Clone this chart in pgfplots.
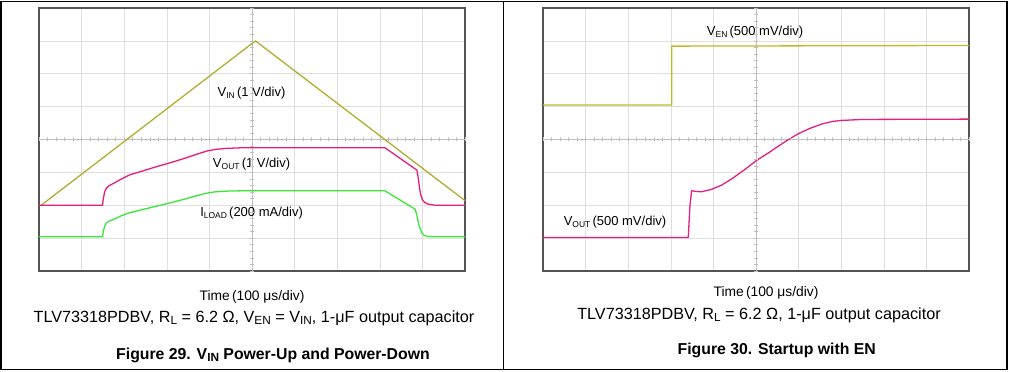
\documentclass[border=0pt]{standalone}
\usepackage{pgfplots}
\pgfplotsset{compat=1.18}
\usepackage{fontspec}
\setmainfont{Liberation Sans}
\definecolor{vin}{RGB}{178,172,48}
\definecolor{ven}{RGB}{192,186,40}
\definecolor{vout}{RGB}{230,30,130}
\definecolor{iload}{RGB}{60,228,60}
\definecolor{frame}{RGB}{85,85,85}
\newcommand{\sub}[1]{\raisebox{-0.25ex}{\fontsize{8.5}{9}\selectfont #1}}
\newcommand{\csub}[1]{\raisebox{-0.3ex}{\fontsize{11.8}{12}\selectfont #1}}
\pgfplotsset{scopeaxis/.style={width=426pt,height=263pt,scale only axis,
  xmin=0,xmax=10,ymin=0,ymax=8,xtick={1,...,9},ytick={1,...,7},
  xticklabels={},yticklabels={},major tick length=0pt,
  grid=major,grid style={gray!25,line width=0.6pt},
  axis line style={draw=frame,line width=2pt},anchor=south west,
  every axis plot/.append style={line width=1.3pt,line join=round}}}
\begin{document}
\begin{tikzpicture}
\path (0pt,0pt) rectangle (1010pt,372pt);
% ---------- left panel ----------
\begin{axis}[scopeaxis,at={(39pt,101pt)}]
\draw[gray!50,line width=0.6pt] (axis cs:5,0)--(axis cs:5,8);
\draw[gray!50,line width=0.6pt] (axis cs:0,4)--(axis cs:10,4);
\addplot[vin] coordinates {(0,2.0)(0.05,2.0)(5.08,7.0)(10,2.14)};
\addplot[vout] coordinates {(0,2.0)(1.49,2.0)(1.51,2.2)(1.54,2.4)(1.58,2.52)(1.65,2.6)(1.77,2.68)(1.95,2.81)(2.12,2.92)(2.4,3.03)(2.75,3.17)(3.1,3.3)(3.4,3.42)(3.7,3.55)(3.94,3.65)(4.15,3.7)(4.4,3.73)(4.8,3.75)(8.12,3.75)(8.87,3.07)(8.9,2.85)(8.93,2.55)(8.96,2.32)(9.0,2.17)(9.05,2.09)(9.12,2.04)(9.3,2.0)(10,2.0)};
\addplot[iload] coordinates {(0,1.04)(1.49,1.04)(1.51,1.2)(1.54,1.36)(1.58,1.46)(1.65,1.52)(1.77,1.58)(1.95,1.69)(2.12,1.77)(2.4,1.86)(2.75,1.97)(3.1,2.08)(3.4,2.18)(3.7,2.29)(3.94,2.37)(4.15,2.41)(4.4,2.43)(4.8,2.44)(8.12,2.44)(8.83,1.88)(8.87,1.7)(8.91,1.45)(8.95,1.27)(9.0,1.13)(9.06,1.07)(9.15,1.05)(9.3,1.04)(10,1.04)};
\node[font=\fontsize{13}{14}\selectfont] at (axis cs:4.99,5.4) {V\sub{IN}\,(1 V/div)};
\node[font=\fontsize{13}{14}\selectfont] at (axis cs:4.99,3.24) {V\sub{OUT}\,(1 V/div)};
\node[font=\fontsize{13}{14}\selectfont] at (axis cs:4.99,1.76) {I\sub{LOAD}\,(200 mA/div)};
\end{axis}
\foreach \i in {0,...,50} {\draw[gray!50,line width=0.5pt] ({(39+\i*8.52)*1pt},230.6pt)--({(39+\i*8.52)*1pt},234.6pt);}
\foreach \i in {0,...,40} {\draw[gray!50,line width=0.5pt] (250pt,{(101+\i*6.575)*1pt})--(254pt,{(101+\i*6.575)*1pt});}
% ---------- right panel ----------
\begin{axis}[scopeaxis,at={(543pt,101pt)}]
\draw[gray!50,line width=0.6pt] (axis cs:5,0)--(axis cs:5,8);
\draw[gray!50,line width=0.6pt] (axis cs:0,4)--(axis cs:10,4);
\addplot[ven] coordinates {(0,5.05)(3.02,5.05)(3.02,6.84)(10,6.86)};
\addplot[vout] coordinates {(0,1.02)(3.41,1.02)(3.45,2.0)(3.49,2.44)(3.6,2.42)(3.72,2.41)(3.95,2.48)(4.19,2.61)(4.45,2.82)(4.75,3.1)(5.02,3.37)(5.3,3.6)(5.55,3.82)(5.8,4.03)(6.0,4.18)(6.25,4.33)(6.54,4.47)(6.8,4.55)(7.01,4.58)(7.5,4.61)(10,4.62)};
\node[font=\fontsize{13}{14}\selectfont] at (axis cs:4.98,7.27) {V\sub{EN}\,(500 mV/div)};
\node[font=\fontsize{13}{14}\selectfont] at (axis cs:1.69,1.48) {V\sub{OUT}\,(500 mV/div)};
\end{axis}
\foreach \i in {0,...,50} {\draw[gray!50,line width=0.5pt] ({(543+\i*8.52)*1pt},230.6pt)--({(543+\i*8.52)*1pt},234.6pt);}
\foreach \i in {0,...,40} {\draw[gray!50,line width=0.5pt] (754pt,{(101+\i*6.575)*1pt})--(758pt,{(101+\i*6.575)*1pt});}
% ---------- texts ----------
\node[font=\fontsize{13.8}{14}\selectfont] at (252pt,75pt) {Time\,(100 μs/div)};
\node[font=\fontsize{16.2}{17}\selectfont] at (254pt,54pt) {TLV73318PDBV, R\csub{L} = 6.2 Ω, V\csub{EN} = V\csub{IN}, 1-μF output capacitor};
\node[font=\fontsize{15.8}{17}\selectfont\bfseries] at (273pt,17pt) {Figure 29. V\csub{IN} Power-Up and Power-Down};
\node[font=\fontsize{13.8}{14}\selectfont] at (766pt,79pt) {Time\,(100 μs/div)};
\node[font=\fontsize{16.2}{17}\selectfont] at (759pt,57pt) {TLV73318PDBV, R\csub{L} = 6.2 Ω, 1-μF output capacitor};
\node[font=\fontsize{15.8}{17}\selectfont\bfseries] at (776.7pt,22pt) {Figure 30. Startup with EN};
% ---------- outer frame ----------
\draw[black,line width=1.5pt] (1pt,370.5pt)--(1007pt,370.5pt)--(1007pt,2.7pt)--(1pt,2.7pt)--cycle;
\draw[black,line width=1.5pt] (503.3pt,370.5pt)--(503.3pt,2.7pt);
\end{tikzpicture}
\end{document}
